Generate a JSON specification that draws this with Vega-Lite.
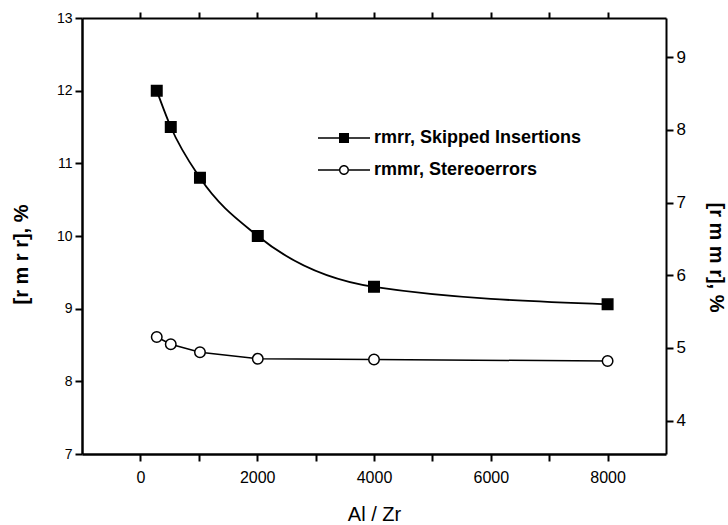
{
  "$schema": "https://vega.github.io/schema/vega-lite/v6.json",
  "width": 584,
  "height": 436,
  "autosize": {"type": "none"},
  "padding": {"left": 82, "top": 18, "right": 62, "bottom": 71},
  "background": "white",
  "config": {
    "view": {"stroke": null},
    "font": "Liberation Sans",
    "axis": {
      "domainColor": "black",
      "labelColor": "black",
      "titleColor": "black",
      "grid": false,
      "labelFont": "Liberation Sans",
      "titleFont": "Liberation Sans",
      "domainWidth": 2.5
    }
  },
  "data": {
    "values": [
      {"alzr": 280, "series": "rmrr, Skipped Insertions", "value": 12.0},
      {"alzr": 520, "series": "rmrr, Skipped Insertions", "value": 11.5},
      {"alzr": 1020, "series": "rmrr, Skipped Insertions", "value": 10.8},
      {"alzr": 2010, "series": "rmrr, Skipped Insertions", "value": 10.0},
      {"alzr": 4000, "series": "rmrr, Skipped Insertions", "value": 9.3},
      {"alzr": 8000, "series": "rmrr, Skipped Insertions", "value": 9.06},
      {"alzr": 280, "series": "rmmr, Stereoerrors", "value": 5.15},
      {"alzr": 520, "series": "rmmr, Stereoerrors", "value": 5.05},
      {"alzr": 1020, "series": "rmmr, Stereoerrors", "value": 4.94},
      {"alzr": 2010, "series": "rmmr, Stereoerrors", "value": 4.85},
      {"alzr": 4000, "series": "rmmr, Stereoerrors", "value": 4.84},
      {"alzr": 8000, "series": "rmmr, Stereoerrors", "value": 4.82}
    ]
  },
  "layer": [
    {
      "transform": [{"filter": "datum.series === 'rmrr, Skipped Insertions'"}],
      "encoding": {
        "x": {
          "field": "alzr", "type": "quantitative",
          "scale": {"domain": [-1000, 9000], "nice": false, "zero": false},
          "axis": {
            "orient": "bottom",
            "title": "Al / Zr",
            "titleFontSize": 20,
            "titleFontWeight": "normal",
            "titleBaseline": "alphabetic",
            "titleY": 66,
            "values": [0, 1000, 2000, 3000, 4000, 5000, 6000, 7000, 8000],
            "labelExpr": "datum.value % 2000 === 0 ? datum.label : ''",
            "format": "d",
            "labelFontSize": 16,
            "labelPadding": 8,
            "ticks": true,
            "tickColor": "black",
            "tickOpacity": 1,
            "tickWidth": 2,
            "tickSize": 7,
            "zindex": 1
          }
        },
        "y": {
          "field": "value", "type": "quantitative",
          "scale": {"domain": [7, 13], "nice": false, "zero": false},
          "axis": {
            "orient": "left",
            "title": "[r m r r], %",
            "titleFontSize": 20,
            "titleFontWeight": "bold",
            "titleAngle": -90,
            "titleBaseline": "middle",
            "titleAlign": "center",
            "titleX": -61,
            "titleY": 236,
            "values": [7, 7.5, 8, 8.5, 9, 9.5, 10, 10.5, 11, 11.5, 12, 12.5, 13],
            "labelExpr": "datum.value % 1 === 0 ? datum.label : ''",
            "format": "d",
            "labelFontSize": 14,
            "labelPadding": 3,
            "ticks": true,
            "tickColor": "black",
            "tickOpacity": 1,
            "tickWidth": 2,
            "tickSize": 7,
            "zindex": 1
          }
        }
      },
      "layer": [
        {"mark": {"type": "line", "interpolate": "monotone", "color": "black", "strokeWidth": 1.8}},
        {
          "mark": {"type": "point", "shape": "square", "filled": true, "color": "black", "stroke": "black", "strokeWidth": 1.5, "size": 110, "opacity": 1}
        },
        {
          "mark": {"type": "point", "filled": true, "size": 0, "opacity": 1, "color": "black"},
          "encoding": {
            "shape": {"field": "series", "type": "nominal",
              "scale": {"domain": ["rmrr, Skipped Insertions", "rmmr, Stereoerrors"],
                "range": [
                  "M-5.2,-0.15H-1V0.15H-5.2ZM1,-0.15H5.2V0.15H1ZM-1,-1H1V1H-1Z",
                  "M-5.2,-0.15H-1V0.15H-5.2ZM1,-0.15H5.2V0.15H1ZM-1,0A1,1 0 1,0 1,0A1,1 0 1,0 -1,0ZM-0.72,0A0.72,0.72 0 1,1 0.72,0A0.72,0.72 0 1,1 -0.72,0Z"
                ]},
              "legend": {
                "orient": "none",
                "legendX": 253,
                "legendY": 111,
                "title": null,
                "padding": 0,
                "labelFontSize": 18,
                "labelFontWeight": "bold",
                "labelFont": "Liberation Sans",
                "labelColor": "black",
                "labelLimit": 0,
                "labelOffset": 21,
                "rowPadding": 14,
                "symbolSize": 100,
                "symbolFillColor": "black",
                "symbolOpacity": 1
              }
            }
          }
        }
      ]
    },
    {
      "transform": [{"filter": "datum.series === 'rmmr, Stereoerrors'"}],
      "encoding": {
        "x": {
          "field": "alzr", "type": "quantitative",
          "scale": {"domain": [-1000, 9000], "nice": false, "zero": false},
          "axis": {
            "orient": "top",
            "title": null,
            "values": [0, 1000, 2000, 3000, 4000, 5000, 6000, 7000, 8000],
            "labels": false,
            "domainWidth": 2,
            "ticks": true,
            "tickColor": "black",
            "tickOpacity": 1,
            "tickWidth": 2,
            "tickSize": 6,
            "zindex": 1
          }
        },
        "y": {
          "field": "value", "type": "quantitative",
          "scale": {"domain": [3.54, 9.54], "nice": false, "zero": false},
          "axis": {
            "orient": "right",
            "title": "[r m m r], %",
            "titleFontSize": 20,
            "titleFontWeight": "bold",
            "titleAngle": 90,
            "titleBaseline": "middle",
            "titleAlign": "center",
            "titleX": 49,
            "titleY": 239,
            "values": [4, 4.5, 5, 5.5, 6, 6.5, 7, 7.5, 8, 8.5, 9],
            "labelExpr": "datum.value % 1 === 0 ? datum.label : ''",
            "format": "d",
            "labelFontSize": 17,
            "labelPadding": 3,
            "domainWidth": 2,
            "ticks": true,
            "tickColor": "black",
            "tickOpacity": 1,
            "tickWidth": 2,
            "tickSize": 7,
            "zindex": 1
          }
        }
      },
      "layer": [
        {"mark": {"type": "line", "interpolate": "linear", "color": "black", "strokeWidth": 1.5}},
        {
          "mark": {"type": "point", "shape": "circle", "filled": true, "fill": "white", "stroke": "black", "strokeWidth": 1.5, "size": 110, "opacity": 1}
        }
      ]
    }
  ],
  "resolve": {
    "scale": {"y": "independent"},
    "axis": {"x": "independent", "y": "independent"}
  }
}
